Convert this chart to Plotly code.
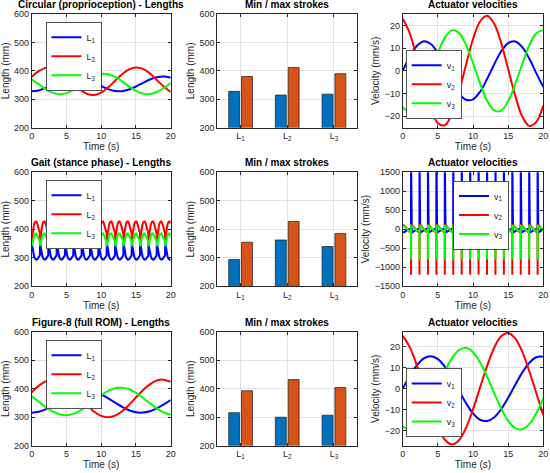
import numpy as np
import plotly.graph_objects as go
from plotly.subplots import make_subplots

# ---- circular (proprioception), sampled every 1 s ----
t_circ = list(range(0, 21))
circ_L1 = [328.0, 331.2, 340.0, 352.2, 364.8, 374.8, 379.7, 378.3, 371.0, 359.5, 346.6,
           335.6, 329.0, 328.6, 334.4, 345.0, 357.8, 369.7, 377.7, 379.9, 375.8]
circ_L2 = [378.8, 399.0, 410.5, 410.5, 399.0, 378.8, 354.9, 333.0, 318.7, 315.3, 323.7,
           341.9, 365.3, 388.3, 405.3, 412.0, 406.8, 391.0, 367.7, 344.9, 325.7]
circ_L3 = [370.6, 353.3, 336.1, 323.3, 318.0, 321.6, 333.1, 349.7, 367.3, 381.7, 389.3,
           388.3, 378.8, 363.2, 345.5, 329.8, 320.0, 318.2, 325.7, 339.7, 357.3]
circ_v1 = [0.0, 6.2, 10.9, 13.0, 11.8, 7.8, 1.8, -4.6, -9.8, -12.7, -12.5,
           -9.2, -3.6, 2.8, 8.5, 12.2, 12.9, 10.4, 5.4, -1.0, -7.1]
circ_v2 = [23.0, 16.5, 6.0, -6.0, -16.5, -23.0, -23.9, -18.9, -9.3, 2.6, 13.9,
           21.7, 24.2, 20.8, 12.3, 0.8, -10.9, -20.0, -24.2, -22.4, -15.2]
circ_v3 = [-16.0, -18.0, -15.6, -9.4, -0.9, 7.8, 14.6, 17.9, 16.7, 11.5, 3.4,
           -5.5, -13.1, -17.4, -17.5, -13.3, -5.9, 3.0, 11.2, 16.5, 17.9]
circ_min = [328, 315, 318]
circ_max = [380, 412, 390]

# ---- gait (stance phase): one 1.2 s cycle, repeated ----
gait_period = 1.2
gait_cycles = 17
gait_phase = [0.0, 0.1, 0.2, 0.35, 0.5, 0.65, 0.8, 0.95, 1.1, 1.18]
gait_L1 = [354, 335, 318, 303, 296, 293, 294, 298, 304, 308]
gait_L2 = [362, 382, 400, 418, 426, 427, 420, 408, 393, 385]
gait_L3 = [340, 352, 364, 377, 384, 385, 378, 368, 360, 356]
gait_vphase = [0.0, 0.1, 0.2, 0.35, 0.5, 0.65, 0.8, 0.95, 1.1, 1.18, 1.19]
gait_v1 = [-80, -90, -80, -60, -40, -20, 0, 15, 25, 30, 1900]
gait_v2 = [110, 105, 95, 70, 30, -10, -45, -65, -75, -80, -1200]
gait_v3 = [90, 85, 75, 55, 25, -5, -35, -55, -60, -60, -800]
gait_min = [293, 362, 339]
gait_max = [354, 427, 385]

# ---- figure-8 (full ROM), sampled every 1 s ----
t_fig8 = list(range(0, 21))
fig8_L1 = [316.0, 319.0, 327.7, 340.5, 355.6, 370.5, 382.9, 390.8, 392.9, 389.0, 379.7,
           366.3, 351.1, 336.5, 324.6, 317.5, 316.3, 321.0, 331.1, 345.1, 360.1]
fig8_L2 = [387.4, 410.1, 425.7, 431.9, 427.8, 413.8, 392.4, 366.7, 341.0, 319.2, 304.7,
           300.0, 305.7, 321.1, 343.2, 369.1, 394.6, 415.1, 428.6, 431.8, 424.1]
fig8_L3 = [373.9, 355.0, 336.1, 320.3, 310.1, 307.0, 311.6, 323.1, 339.7, 358.8, 377.4,
           392.5, 401.8, 403.8, 398.1, 385.7, 368.4, 349.3, 331.1, 316.7, 308.4]
fig8_v1 = [0.0, 6.0, 11.0, 14.4, 15.4, 14.0, 10.4, 5.2, -0.9, -6.8, -11.7,
           -14.7, -15.3, -13.6, -9.7, -4.3, 1.8, 7.6, 12.2, 14.9, 15.2]
fig8_v2 = [25.0, 19.7, 11.2, 1.1, -9.3, -18.2, -24.2, -26.4, -24.4, -18.6, -9.8,
           0.5, 10.7, 19.3, 24.8, 26.4, 23.8, 17.6, 8.4, -2.0, -12.5]
fig8_v3 = [-17.9, -19.4, -17.8, -13.4, -6.8, 0.8, 8.3, 14.4, 18.3, 19.4, 17.3,
           12.5, 5.8, -1.9, -9.3, -15.2, -18.7, -19.2, -16.8, -11.6, -4.6]
fig8_min = [316, 300, 307]
fig8_max = [393, 432, 404]

titles = ["Circular (proprioception) - Lengths", "Gait (stance phase) - Lengths",
          "Figure-8 (full ROM) - Lengths"]
bar_labels = ["L<sub>1</sub>", "L<sub>2</sub>", "L<sub>3</sub>"]
len_names = ["L<sub>1</sub>", "L<sub>2</sub>", "L<sub>3</sub>"]
vel_names = ["v<sub>1</sub>", "v<sub>2</sub>", "v<sub>3</sub>"]
line_colors = ["#0000ff", "#ff0000", "#00ff00"]


def repeat_cycle(phase, vals):
    tt, yy = [], []
    for k in range(gait_cycles):
        for p, v in zip(phase, vals):
            t = round(k * gait_period + p, 4)
            if t <= 20.0001:
                tt.append(t)
                yy.append(v)
    return tt, yy


rows = [
    dict(t=t_circ, L=[circ_L1, circ_L2, circ_L3], v=[circ_v1, circ_v2, circ_v3],
         mn=circ_min, mx=circ_max, shape="spline", vrange=[-25, 25], vticks=[-20, -10, 0, 10, 20]),
    dict(t=None, L=[gait_L1, gait_L2, gait_L3], v=[gait_v1, gait_v2, gait_v3],
         mn=gait_min, mx=gait_max, shape="linear", vrange=[-1500, 1500],
         vticks=[-1500, -1000, -500, 0, 500, 1000, 1500]),
    dict(t=t_fig8, L=[fig8_L1, fig8_L2, fig8_L3], v=[fig8_v1, fig8_v2, fig8_v3],
         mn=fig8_min, mx=fig8_max, shape="spline", vrange=[-27, 27], vticks=[-20, -10, 0, 10, 20]),
]

xdom = [[0.0576, 0.3104], [0.395, 0.6496], [0.7322, 0.9878]]
ydom = [[0.730, 0.9704], [0.3953, 0.6357], [0.0577, 0.2987]]
# (x, y, yanchor) for each legend box
legend_pos = [[(0.083, 0.9535, "top"), (0.738, 0.7484, "bottom")],
              [(0.083, 0.6195, "top"), (0.824, 0.618, "top")],
              [(0.083, 0.2812, "top"), (0.738, 0.0755, "bottom")]]

fig = make_subplots(rows=3, cols=3)

axis_font = dict(family="Liberation Sans, Arial, sans-serif", size=9, color="#262626")
title_font = dict(family="Liberation Sans, Arial, sans-serif", size=10, color="#262626")
base_axis = dict(showline=True, linecolor="#262626", linewidth=0.8, mirror="ticks",
                 ticks="inside", ticklen=3, tickcolor="#262626", showgrid=True,
                 gridcolor="#e3e3e3", gridwidth=0.8, zeroline=False, tickfont=axis_font,
                 automargin=False)


def legend_box(pos):
    return dict(x=pos[0], y=pos[1], xanchor="left", yanchor=pos[2], bgcolor="white",
                bordercolor="#262626", borderwidth=0.8, font=axis_font, itemwidth=30,
                tracegroupgap=0)


leg_i = 0
for r, d in enumerate(rows):
    # lengths
    leg_i += 1
    lname = "legend" if leg_i == 1 else f"legend{leg_i}"
    for i in range(3):
        if d["t"] is None:
            tx, ty = repeat_cycle(gait_phase, d["L"][i])
        else:
            tx, ty = d["t"], d["L"][i]
        fig.add_trace(go.Scatter(x=tx, y=ty, mode="lines", name=len_names[i], legend=lname,
                                 line=dict(color=line_colors[i], width=2, shape=d["shape"])),
                      row=r + 1, col=1)
    fig.layout[lname] = legend_box(legend_pos[r][0])

    # min / max bars
    fig.add_trace(go.Bar(x=[1, 2, 3], y=d["mn"], name="min", showlegend=False,
                         marker=dict(color="#0072bd", line=dict(color="#1a1a1a", width=0.7))),
                  row=r + 1, col=2)
    fig.add_trace(go.Bar(x=[1, 2, 3], y=d["mx"], name="max", showlegend=False,
                         marker=dict(color="#d95319", line=dict(color="#1a1a1a", width=0.7))),
                  row=r + 1, col=2)

    # velocities
    leg_i += 1
    vname = f"legend{leg_i}"
    for i in range(3):
        if d["t"] is None:
            tx, ty = repeat_cycle(gait_vphase, d["v"][i])
        else:
            tx, ty = d["t"], d["v"][i]
        fig.add_trace(go.Scatter(x=tx, y=ty, mode="lines", name=vel_names[i], legend=vname,
                                 line=dict(color=line_colors[i], width=2, shape=d["shape"])),
                      row=r + 1, col=3)
    fig.layout[vname] = legend_box(legend_pos[r][1])

annotations = []
for r in range(3):
    for c in range(3):
        idx = r * 3 + c + 1
        xa = "xaxis" if idx == 1 else f"xaxis{idx}"
        ya = "yaxis" if idx == 1 else f"yaxis{idx}"
        fig.layout[xa].update(domain=xdom[c], **base_axis)
        fig.layout[ya].update(domain=ydom[r], **base_axis)
        if c == 1:
            fig.layout[xa].update(range=[0.5, 3.5], tickvals=[1, 2, 3], ticktext=bar_labels)
            fig.layout[ya].update(range=[200, 600], tickvals=[200, 300, 400, 500, 600],
                                  title=dict(text="Length (mm)", font=title_font, standoff=3))
            ttl = "Min / max strokes"
        else:
            fig.layout[xa].update(range=[0, 20], tickvals=[0, 5, 10, 15, 20],
                                  title=dict(text="Time (s)", font=title_font, standoff=2))
            if c == 0:
                fig.layout[ya].update(range=[200, 600], tickvals=[200, 300, 400, 500, 600],
                                      title=dict(text="Length (mm)", font=title_font, standoff=3))
                ttl = titles[r]
            else:
                fig.layout[ya].update(range=rows[r]["vrange"], tickvals=rows[r]["vticks"],
                                      title=dict(text="Velocity (mm/s)", font=title_font, standoff=3))
                ttl = "Actuator velocities"
        annotations.append(dict(text="<b>" + ttl + "</b>", xref="paper", yref="paper",
                                x=(xdom[c][0] + xdom[c][1]) / 2, y=ydom[r][1],
                                xanchor="center", yanchor="bottom", yshift=2, showarrow=False,
                                font=dict(family="Liberation Sans, Arial, sans-serif",
                                          size=10, color="black")))

fig.update_layout(width=550, height=473, margin=dict(l=0, r=0, t=0, b=0),
                  paper_bgcolor="white", plot_bgcolor="white", barmode="group",
                  bargap=0.45, bargroupgap=0.15, annotations=annotations,
                  font=dict(family="Liberation Sans, Arial, sans-serif"))

# page body has a default 8px margin; drop it so the 550x473 figure fills the window
fig.write_html("out.html", config={"displayModeBar": False},
               post_script="document.body.style.margin='0';")
